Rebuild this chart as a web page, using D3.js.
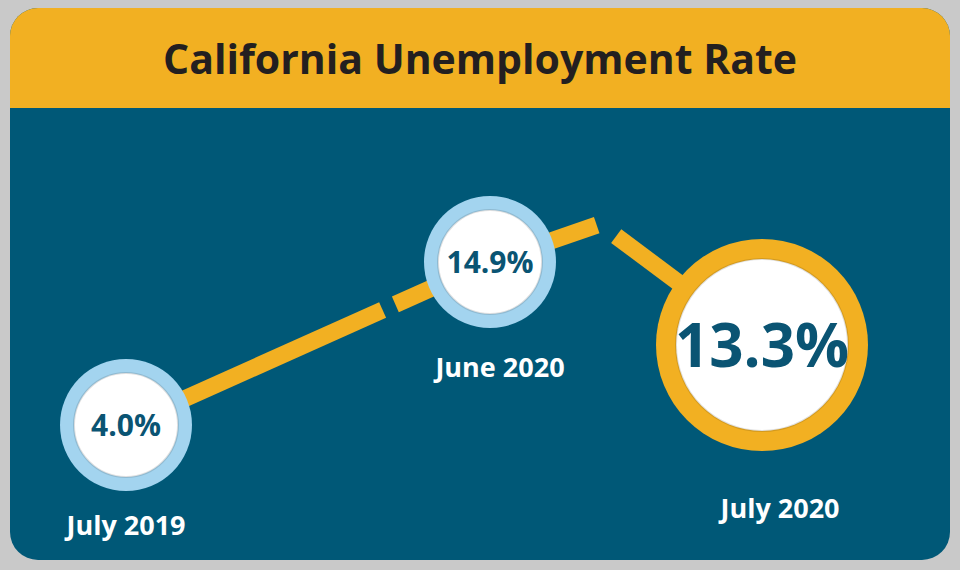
<!DOCTYPE html>
<html><head><meta charset="utf-8">
<script src="https://cdn.jsdelivr.net/npm/d3@7"></script>
<style>
body{margin:0;background:#c9c9c9;}
text{font-family:"Open Sans","Noto Sans",sans-serif;font-weight:700;}
</style></head>
<body><svg id="c" width="960" height="570"></svg>
<script>
const categories = ["July 2019", "June 2020", "July 2020"];
const rates = [4.0, 14.9, 13.3];
const labels = ["4.0%", "14.9%", "13.3%"];
const highlight = [false, false, true];

const COLORS = { gold: "#f2b022", teal: "#005877", ring: "#a3d4ef", ink: "#231f20", num: "#0a5473" };

const svg = d3.select("#c");
// broken-axis scales (the graphic is not drawn to scale)
const x = d3.scaleLinear().domain([0, 1, 2]).range([126, 490, 762]);
const y = d3.scaleLinear().domain([4.0, 13.3, 14.9]).range([425, 345, 262]);

// —— Card ——
svg.append("clipPath").attr("id", "card")
  .append("rect").attr("x", 10).attr("y", 8).attr("width", 940).attr("height", 552).attr("rx", 28);
const card = svg.append("g").attr("clip-path", "url(#card)");
card.append("rect").attr("x", 10).attr("y", 8).attr("width", 940).attr("height", 552).attr("fill", COLORS.teal);
card.append("rect").attr("x", 10).attr("y", 8).attr("width", 940).attr("height", 100).attr("fill", COLORS.gold);

svg.append("text").attr("x", 480).attr("y", 74).attr("text-anchor", "middle")
  .attr("font-size", 41).attr("fill", COLORS.ink).text("California Unemployment Rate");

// —— Connecting line with axis breaks ——
const pts = rates.map((v, i) => [x(i), y(v)]);
const peak = [600, 224];
function seg(a, b, t0, t1) {
  return [[a[0] + (b[0] - a[0]) * t0, a[1] + (b[1] - a[1]) * t0],
          [a[0] + (b[0] - a[0]) * t1, a[1] + (b[1] - a[1]) * t1]];
}
const segments = [
  seg(pts[0], pts[1], 0, 0.705), seg(pts[0], pts[1], 0.74, 1),
  seg(pts[1], peak, 0, 0.97), seg(peak, pts[2], 0.1, 1)
];
svg.selectAll(".seg").data(segments).join("line")
  .attr("x1", d => d[0][0]).attr("y1", d => d[0][1])
  .attr("x2", d => d[1][0]).attr("y2", d => d[1][1])
  .attr("stroke", COLORS.gold).attr("stroke-width", 17);

// —— Circles ——
const node = svg.selectAll(".node").data(categories).join("g")
  .attr("transform", (d, i) => `translate(${pts[i][0]},${pts[i][1]})`);
node.append("circle").attr("r", (d, i) => highlight[i] ? 106 : 66)
  .attr("fill", (d, i) => highlight[i] ? COLORS.gold : COLORS.ring);
node.append("circle").attr("r", (d, i) => highlight[i] ? 86 : 52).attr("fill", "#fff")
  .attr("stroke", "rgba(0,0,0,0.12)").attr("stroke-width", 2);
node.append("text").attr("text-anchor", "middle")
  .attr("y", (d, i) => highlight[i] ? 22 : 11)
  .attr("font-size", (d, i) => highlight[i] ? 60 : 30)
  .attr("fill", COLORS.num).text((d, i) => labels[i]);

const labelOffset = [[0, 110], [10, 115], [18, 173]];
svg.selectAll(".lab").data(categories).join("text")
  .attr("x", (d, i) => pts[i][0] + labelOffset[i][0])
  .attr("y", (d, i) => pts[i][1] + labelOffset[i][1])
  .attr("text-anchor", "middle").attr("font-size", 27).attr("fill", "#fff").text(d => d);
</script></body></html>
